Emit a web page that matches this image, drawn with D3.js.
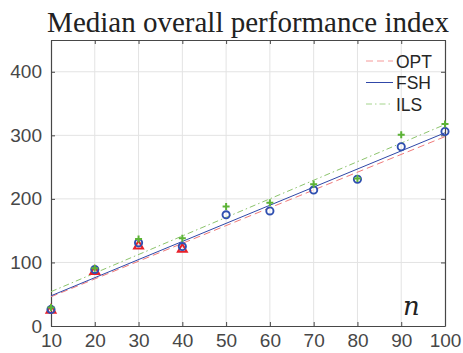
<!DOCTYPE html>
<html>
<head>
<meta charset="utf-8">
<script src="https://cdn.jsdelivr.net/npm/d3@7"></script>
<style>
  body { margin: 0; background: #fff; }
  svg { display: block; }
</style>
</head>
<body>
<div id="chart"></div>
<script>
// problem sizes
const nValues = [10, 20, 30, 40, 50, 60, 70, 80, 90, 100];
// medians per method (OPT only solved up to n = 40)
const optN = [10, 20, 30, 40];
const optValues = [25, 86, 126, 121];
const fshValues = [26, 89, 131, 125, 175, 181, 214, 231, 282, 306];
const ilsValues = [29, 91, 137, 138, 188, 194, 223, 232, 301, 318];
// linear fit end points
const fitN = [10, 100];
const optFit = [46, 298];
const fshFit = [47.5, 304];
const ilsFit = [54, 317];
const xTicks = [10, 20, 30, 40, 50, 60, 70, 80, 90, 100];
const yTicks = [0, 100, 200, 300, 400];

const W = 463, H = 353;
const margin = { top: 40, right: 18, bottom: 27, left: 51 };
const width = W - margin.left - margin.right;
const height = H - margin.top - margin.bottom;

const svg = d3.select("#chart").append("svg")
    .attr("width", W)
    .attr("height", H);

const g = svg.append("g")
    .attr("transform", "translate(" + margin.left + "," + margin.top + ")");

const x = d3.scaleLinear().domain([10, 100]).range([0, width]);
const y = d3.scaleLinear().domain([0, 450]).range([height, 0]);

const axisColor = "#474747";
const tickFont = "'Liberation Sans', Arial, sans-serif";

// grid
g.append("g").selectAll("line.gx")
    .data(xTicks.slice(1, -1))
    .enter().append("line")
    .attr("x1", d => x(d)).attr("x2", d => x(d))
    .attr("y1", 0).attr("y2", height)
    .attr("stroke", "#e3e3e3").attr("stroke-width", 1);
g.append("g").selectAll("line.gy")
    .data(yTicks.slice(1))
    .enter().append("line")
    .attr("x1", 0).attr("x2", width)
    .attr("y1", d => y(d)).attr("y2", d => y(d))
    .attr("stroke", "#e3e3e3").attr("stroke-width", 1);

// axes (ticks inward, box on)
const styleAxis = sel => {
    sel.select(".domain").attr("stroke", axisColor).attr("stroke-width", 1.2);
    sel.selectAll(".tick line").attr("stroke", axisColor);
    sel.selectAll(".tick text")
        .attr("fill", axisColor)
        .style("font-family", tickFont)
        .style("font-size", "19px");
};
g.append("g")
    .attr("transform", "translate(0," + height + ")")
    .call(d3.axisBottom(x).tickValues(xTicks).tickSizeInner(-4).tickSizeOuter(0).tickPadding(8))
    .call(styleAxis);
g.append("g")
    .call(d3.axisLeft(y).tickValues(yTicks).tickSizeInner(-4).tickSizeOuter(0).tickPadding(9))
    .call(styleAxis);
g.append("g")
    .call(d3.axisTop(x).tickValues(xTicks).tickSizeInner(-4).tickSizeOuter(0).tickFormat(""))
    .call(styleAxis);
g.append("g")
    .attr("transform", "translate(" + width + ",0)")
    .call(d3.axisRight(y).tickValues(yTicks).tickSizeInner(-4).tickSizeOuter(0).tickFormat(""))
    .call(styleAxis);

// fit lines
const line = d3.line().x(d => x(d[0])).y(d => y(d[1]));
const fits = [
    { vals: optFit, color: "#f07a7a", dash: "7,4", w: 1 },
    { vals: fshFit, color: "#3048a8", dash: null, w: 1 },
    { vals: ilsFit, color: "#8cc46c", dash: "6,3,1.5,3", w: 1 }
];
fits.forEach(f => {
    g.append("path")
        .datum(fitN.map((n, i) => [n, f.vals[i]]))
        .attr("d", line)
        .attr("fill", "none")
        .attr("stroke", f.color)
        .attr("stroke-width", f.w)
        .attr("stroke-dasharray", f.dash);
});

// markers
g.selectAll("path.opt")
    .data(optN.map((n, i) => [n, optValues[i]]))
    .enter().append("path")
    .attr("d", d3.symbol().type(d3.symbolTriangle).size(34))
    .attr("transform", d => "translate(" + x(d[0]) + "," + y(d[1]) + ")")
    .attr("fill", "none")
    .attr("stroke", "#e8202a")
    .attr("stroke-width", 2);

g.selectAll("circle.fsh")
    .data(nValues.map((n, i) => [n, fshValues[i]]))
    .enter().append("circle")
    .attr("cx", d => x(d[0]))
    .attr("cy", d => y(d[1]))
    .attr("r", 3.6)
    .attr("fill", "none")
    .attr("stroke", "#2f4fb0")
    .attr("stroke-width", 1.9);

g.selectAll("path.ils")
    .data(nValues.map((n, i) => [n, ilsValues[i]]))
    .enter().append("path")
    .attr("d", "M-3.5,0H3.5M0,-3.5V3.5")
    .attr("transform", d => "translate(" + x(d[0]) + "," + y(d[1]) + ")")
    .attr("fill", "none")
    .attr("stroke", "#5cb336")
    .attr("stroke-width", 2);

// legend
const legend = [
    { name: "OPT", color: "#f59a9a", dash: "7,4" },
    { name: "FSH", color: "#3048a8", dash: null },
    { name: "ILS", color: "#a4d48c", dash: "6,3,1.5,3" }
];
const lg = svg.append("g").attr("transform", "translate(366,61)");
legend.forEach((d, i) => {
    const row = lg.append("g").attr("transform", "translate(0," + (i * 21.5) + ")");
    row.append("line")
        .attr("x1", 0).attr("x2", 27)
        .attr("stroke", d.color).attr("stroke-width", 1)
        .attr("stroke-dasharray", d.dash);
    row.append("text")
        .attr("x", 30).attr("y", 6.5)
        .attr("fill", "#262626")
        .style("font-family", tickFont)
        .style("font-size", "17.5px")
        .text(d.name);
});

// title
svg.append("text")
    .attr("x", (margin.left + W - margin.right) / 2)
    .attr("y", 32)
    .attr("text-anchor", "middle")
    .attr("fill", "#222")
    .style("font-family", "'Liberation Serif', 'Times New Roman', serif")
    .style("font-size", "29px")
    .text("Median overall performance index");

// axis variable
svg.append("text")
    .attr("x", 403)
    .attr("y", 315)
    .attr("fill", "#222")
    .style("font-family", "'DejaVu Serif', serif")
    .style("font-style", "italic")
    .style("font-size", "26px")
    .text("n");
</script>
</body>
</html>
